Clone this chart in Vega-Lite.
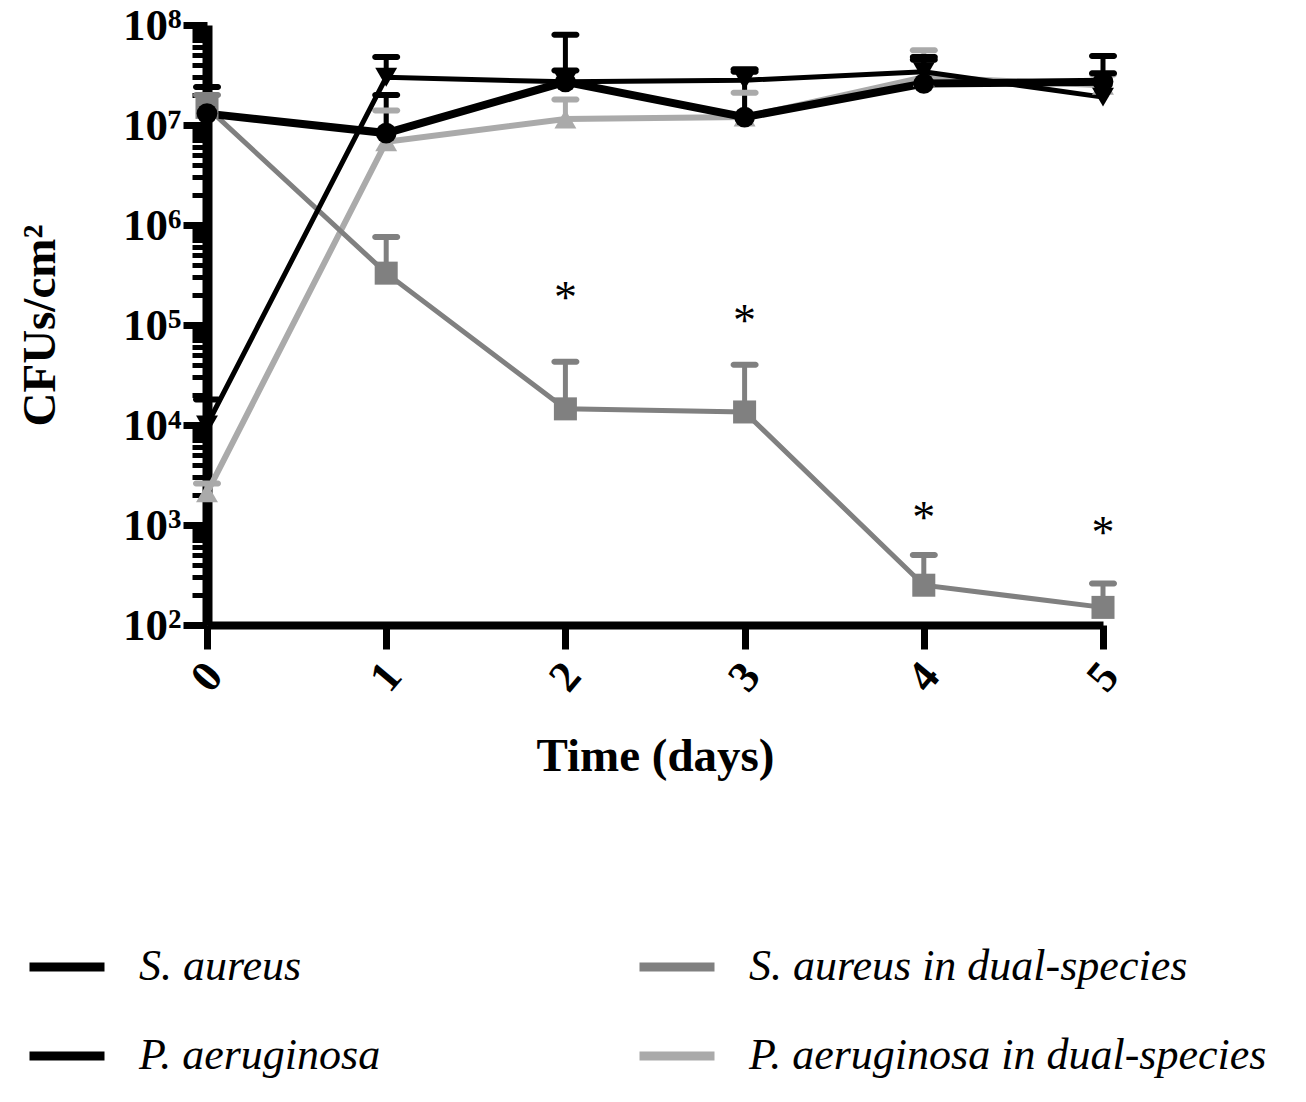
{
  "$schema": "https://vega.github.io/schema/vega-lite/v6.json",
  "width": 896,
  "height": 600,
  "autosize": {"type": "none"},
  "padding": {"left": 207, "top": 25, "right": 203, "bottom": 477},
  "background": "white",
  "config": {
    "view": {"stroke": null},
    "font": "Liberation Serif"
  },
  "datasets": {
    "counts": [
      {"series": "P. aeruginosa in dual-species", "day": 0, "cfu": 2100, "upper": 2600},
      {"series": "P. aeruginosa in dual-species", "day": 1, "cfu": 6800000, "upper": 14000000},
      {"series": "P. aeruginosa in dual-species", "day": 2, "cfu": 11500000, "upper": 18000000},
      {"series": "P. aeruginosa in dual-species", "day": 3, "cfu": 12000000, "upper": 21000000},
      {"series": "P. aeruginosa in dual-species", "day": 4, "cfu": 30000000, "upper": 56000000},
      {"series": "P. aeruginosa in dual-species", "day": 5, "cfu": 25000000, "upper": 32000000},
      {"series": "S. aureus in dual-species", "day": 0, "cfu": 15000000, "upper": 20000000},
      {"series": "S. aureus in dual-species", "day": 1, "cfu": 330000, "upper": 760000},
      {"series": "S. aureus in dual-species", "day": 2, "cfu": 14500, "upper": 43000},
      {"series": "S. aureus in dual-species", "day": 3, "cfu": 13500, "upper": 40000},
      {"series": "S. aureus in dual-species", "day": 4, "cfu": 250, "upper": 500},
      {"series": "S. aureus in dual-species", "day": 5, "cfu": 150, "upper": 260},
      {"series": "P. aeruginosa", "day": 0, "cfu": 10000, "upper": 18000},
      {"series": "P. aeruginosa", "day": 1, "cfu": 30000000, "upper": 48000000},
      {"series": "P. aeruginosa", "day": 2, "cfu": 27000000, "upper": 80000000},
      {"series": "P. aeruginosa", "day": 3, "cfu": 28000000, "upper": 36000000},
      {"series": "P. aeruginosa", "day": 4, "cfu": 34000000, "upper": 48000000},
      {"series": "P. aeruginosa", "day": 5, "cfu": 19000000, "upper": 49000000},
      {"series": "S. aureus", "day": 0, "cfu": 13000000, "upper": 24000000},
      {"series": "S. aureus", "day": 1, "cfu": 8300000, "upper": 20000000},
      {"series": "S. aureus", "day": 2, "cfu": 27000000, "upper": 35000000},
      {"series": "S. aureus", "day": 3, "cfu": 12000000, "upper": 34000000},
      {"series": "S. aureus", "day": 4, "cfu": 26000000, "upper": 45000000},
      {"series": "S. aureus", "day": 5, "cfu": 27000000, "upper": 33000000}
    ],
    "stars": [
      {"day": 2, "pos": 240000, "label": "*"},
      {"day": 3, "pos": 140000, "label": "*"},
      {"day": 4, "pos": 1500, "label": "*"},
      {"day": 5, "pos": 1070, "label": "*"}
    ]
  },
  "data": {"name": "counts"},
  "encoding": {
    "x": {
      "field": "day",
      "type": "quantitative",
      "scale": {"domain": [0, 5], "nice": false, "zero": false},
      "axis": {
        "values": [0, 1, 2, 3, 4, 5],
        "format": "d",
        "grid": false,
        "domainColor": "black",
        "domainWidth": 8,
        "tickColor": "black",
        "tickWidth": 7,
        "tickSize": 24,
        "labelAngle": -50,
        "labelAlign": "center",
        "labelBaseline": "middle",
        "labelPadding": 28,
        "labelFont": "Liberation Serif",
        "labelFontWeight": "bold",
        "labelFontSize": 44,
        "labelColor": "black",
        "title": "Time (days)",
        "titleFont": "Liberation Serif",
        "titleFontWeight": "bold",
        "titleFontSize": 47,
        "titleColor": "black",
        "titlePadding": 34
      }
    }
  },
  "resolve": {"axis": {"y": "independent"}, "legend": {"color": "independent"}},
  "layer": [
    {
      "mark": {"type": "rule", "strokeWidth": 5, "opacity": 1},
      "encoding": {
        "y": {"field": "cfu", "type": "quantitative", "scale": {"type": "log", "domain": [100, 100000000], "nice": false}, "axis": null},
        "y2": {"field": "upper"},
        "color": {"field": "series", "type": "nominal", "legend": null}
      }
    },
    {
      "mark": {"type": "tick", "orient": "horizontal", "size": 28, "thickness": 6, "cornerRadius": 3, "opacity": 1},
      "encoding": {
        "y": {"field": "upper", "type": "quantitative", "scale": {"type": "log", "domain": [100, 100000000], "nice": false}, "axis": null},
        "color": {"field": "series", "type": "nominal", "legend": null}
      }
    },
    {
      "mark": {"type": "line", "clip": false},
      "encoding": {
        "y": {"field": "cfu", "type": "quantitative", "scale": {"type": "log", "domain": [100, 100000000], "nice": false}, "axis": null},
        "color": {
          "field": "series",
          "type": "nominal",
          "scale": {
            "domain": ["S. aureus", "P. aeruginosa", "S. aureus in dual-species", "P. aeruginosa in dual-species"],
            "range": ["#000000", "#000000", "#808080", "#aaaaaa"]
          },
          "legend": {
            "title": null,
            "orient": "none",
            "legendX": -182,
            "legendY": 900,
            "columns": 2,
            "columnPadding": 240,
            "rowPadding": 25,
            "symbolType": "stroke",
            "symbolSize": 5625,
            "symbolStrokeWidth": 9,
            "labelOffset": 30,
            "labelFont": "Liberation Serif",
            "labelFontSize": 44,
            "labelFontStyle": "italic",
            "labelColor": "black",
            "labelLimit": 700
          }
        },
        "strokeWidth": {
          "field": "series",
          "type": "nominal",
          "scale": {
            "type": "ordinal",
            "domain": ["S. aureus", "P. aeruginosa", "S. aureus in dual-species", "P. aeruginosa in dual-species"],
            "range": [8, 5, 5, 6]
          },
          "legend": null
        }
      }
    },
    {
      "mark": {"type": "point", "filled": true, "opacity": 1, "clip": false},
      "encoding": {
        "y": {
          "field": "cfu",
          "type": "quantitative",
          "scale": {"type": "log", "domain": [100, 100000000], "nice": false},
          "axis": {
            "orient": "left",
            "values": [100, 1000, 10000, 100000, 1000000, 10000000, 100000000],
            "labelExpr": "'10' + substring('⁰¹²³⁴⁵⁶⁷⁸⁹', round(log(datum.value) / LN10), round(log(datum.value) / LN10) + 1)",
            "grid": false,
            "domainColor": "black",
            "domainWidth": 10,
            "tickColor": "black",
            "tickWidth": 7,
            "tickSize": 24,
            "labelPadding": 2,
            "labelFont": "Liberation Serif",
            "labelFontWeight": "bold",
            "labelFontSize": 45,
            "labelColor": "black",
            "title": "CFUs/cm²",
            "titleFont": "Liberation Serif",
            "titleFontWeight": "bold",
            "titleFontSize": 47,
            "titleColor": "black",
            "titlePadding": 58
          }
        },
        "color": {"field": "series", "type": "nominal", "legend": null},
        "shape": {
          "field": "series",
          "type": "nominal",
          "scale": {
            "domain": ["S. aureus", "P. aeruginosa", "S. aureus in dual-species", "P. aeruginosa in dual-species"],
            "range": ["circle", "triangle-down", "square", "triangle-up"]
          },
          "legend": null
        },
        "size": {
          "field": "series",
          "type": "nominal",
          "scale": {
            "type": "ordinal",
            "domain": ["S. aureus", "P. aeruginosa", "S. aureus in dual-species", "P. aeruginosa in dual-species"],
            "range": [430, 480, 530, 480]
          },
          "legend": null
        }
      }
    },
    {
      "data": {"name": "stars"},
      "mark": {"type": "text", "fontSize": 46, "font": "Liberation Serif", "baseline": "middle", "dy": 12, "color": "black"},
      "encoding": {
        "y": {
          "field": "pos",
          "type": "quantitative",
          "scale": {"type": "log", "domain": [100, 100000000], "nice": false},
          "axis": {
            "orient": "left",
            "values": [200, 300, 400, 500, 600, 700, 800, 900, 2000, 3000, 4000, 5000, 6000, 7000, 8000, 9000, 20000, 30000, 40000, 50000, 60000, 70000, 80000, 90000, 200000, 300000, 400000, 500000, 600000, 700000, 800000, 900000, 2000000, 3000000, 4000000, 5000000, 6000000, 7000000, 8000000, 9000000, 20000000, 30000000, 40000000, 50000000, 60000000, 70000000, 80000000, 90000000],
            "labels": false,
            "domain": false,
            "grid": false,
            "tickColor": "black",
            "tickWidth": 5,
            "tickSize": 15,
            "title": null
          }
        },
        "text": {"field": "label", "type": "nominal"}
      }
    }
  ]
}
